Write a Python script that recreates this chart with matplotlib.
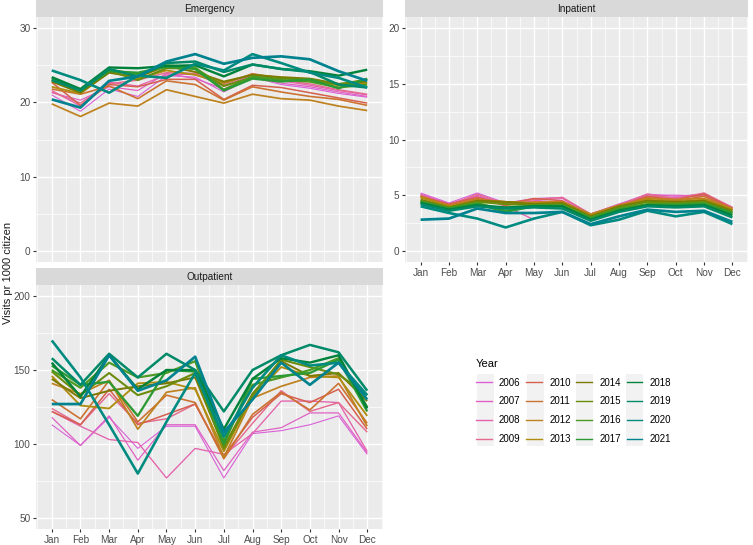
import numpy as np
import matplotlib
matplotlib.use("Agg")
import matplotlib.pyplot as plt
from matplotlib.lines import Line2D
from matplotlib.patches import Rectangle
from matplotlib.ticker import MultipleLocator

plt.rcParams["font.family"] = ["Liberation Sans", "DejaVu Sans"]

W, H = 753, 545

MONTHS = ["Jan", "Feb", "Mar", "Apr", "May", "Jun",
          "Jul", "Aug", "Sep", "Oct", "Nov", "Dec"]
YEARS = list(range(2006, 2022))

# colour per year, pink -> orange -> olive -> green -> teal
YEAR_COLORS = [
    "#D960D8", "#E05FC4", "#E463AE", "#E46A90",
    "#D6604E", "#CC7230", "#BE8220", "#B08D10",
    "#7C7800", "#6A8C0C", "#4C9A22", "#2C9A34",
    "#00823A", "#008A68", "#008B80", "#00838F",
]

nan = np.nan

emergency = {
    2006: [21.0, 18.8, 21.8, 20.8, 23.6, 23.4, 21.4, 23.4, 22.4, 21.9, 21.2, 20.7],
    2007: [21.3, 20.3, 22.1, 21.6, 23.9, 23.2, 21.8, 23.5, 22.6, 22.1, 21.4, 20.8],
    2008: [21.6, 19.5, 22.7, 22.2, 23.7, 23.8, 22.2, 23.7, 22.9, 22.3, 21.6, 21.0],
    2009: [21.4, 19.9, 22.5, 23.0, 24.0, 23.9, 22.4, 23.9, 23.0, 22.5, 21.7, 21.1],
    2010: [22.7, 19.6, 22.4, 22.1, 23.1, 23.1, 20.4, 22.3, 22.0, 21.3, 20.6, 19.9],
    2011: [21.8, 21.1, 22.2, 20.5, 22.9, 22.4, 20.3, 22.1, 21.4, 20.8, 20.4, 19.6],
    2012: [19.8, 18.1, 19.9, 19.5, 21.7, 20.8, 19.9, 21.1, 20.5, 20.3, 19.5, 18.9],
    2013: [22.1, 21.2, 24.1, 23.2, 24.3, 23.7, 22.6, 23.8, 23.3, 23.0, 22.3, 22.6],
    2014: [22.8, 21.3, 24.0, 23.4, 24.9, 24.1, 22.8, 23.7, 23.4, 23.2, 22.5, 22.8],
    2015: [23.0, 21.7, 24.3, 23.0, 24.6, 24.6, 22.2, 23.4, 23.2, 23.1, 22.4, 23.1],
    2016: [23.3, 21.5, 24.4, 23.8, 25.0, 24.7, 21.7, 23.5, 23.0, 22.8, 22.0, 22.4],
    2017: [23.1, 21.6, 24.2, 24.0, 24.8, 24.5, 21.6, 23.2, 22.8, 23.1, 21.9, 23.2],
    2018: [23.4, 21.8, 24.7, 24.6, 24.9, 25.0, 23.5, 25.1, 24.5, 24.2, 23.6, 24.4],
    2019: [23.0, 21.6, 24.5, 23.5, 25.3, 25.5, 24.1, 25.1, 24.5, 24.1, 22.4, 22.0],
    2020: [24.3, 23.0, 21.3, 23.6, 23.3, 25.2, 24.3, 26.5, 25.3, 24.0, 23.3, 22.0],
    2021: [20.4, 19.3, 22.9, 23.5, 25.5, 26.5, 25.2, 26.0, 26.2, 25.8, 24.2, 22.9],
}

inpatient = {
    2006: [5.2, 4.3, 5.2, 4.3, 4.7, 4.8, 3.3, 4.2, 5.1, 4.9, 5.1, 3.9],
    2007: [5.1, 4.2, 5.0, 4.1, 4.5, 4.7, 3.2, 4.1, 5.0, 5.0, 4.9, 3.8],
    2008: [5.0, 4.2, 4.9, 4.0, 2.8, nan, 3.3, 4.2, 4.9, 4.8, 5.0, 3.9],
    2009: [5.0, 4.1, 5.1, 4.2, 4.6, 4.8, 3.3, 4.1, 5.1, 4.7, 5.2, 3.9],
    2010: [4.9, 4.2, 4.8, 4.2, 4.7, 4.5, 3.2, 4.0, 4.9, 4.6, 5.1, 3.8],
    2011: [4.8, 4.1, 4.7, 4.1, 4.4, 4.4, 3.2, 4.0, 4.8, 4.5, 4.9, 3.7],
    2012: [4.9, 4.0, 4.6, 4.4, 4.3, 4.4, 3.3, 4.1, 4.7, 4.6, 4.7, 3.8],
    2013: [4.8, 4.0, 4.5, 4.4, 4.3, 4.3, 3.2, 4.0, 4.6, 4.4, 4.6, 3.7],
    2014: [4.6, 3.9, 4.5, 4.4, 4.2, 4.3, 3.1, 4.0, 4.5, 4.4, 4.5, 3.6],
    2015: [4.5, 3.9, 4.4, 4.2, 4.1, 4.2, 3.0, 3.9, 4.4, 4.3, 4.4, 3.5],
    2016: [4.4, 3.8, 4.3, 3.6, 4.1, 4.1, 3.0, 3.8, 4.2, 4.2, 4.3, 3.4],
    2017: [4.4, 3.8, 4.2, 3.5, 4.0, 4.0, 2.9, 3.7, 4.1, 4.1, 4.2, 3.4],
    2018: [4.3, 3.7, 4.1, 3.9, 4.0, 4.0, 2.8, 3.6, 4.1, 4.0, 4.1, 3.2],
    2019: [4.2, 3.6, 4.0, 3.8, 3.9, 3.8, 2.7, 3.5, 4.0, 3.9, 4.0, 3.0],
    2020: [4.0, 3.4, 2.9, 2.1, 2.9, 3.5, 2.3, 2.8, 3.6, 3.1, 3.5, 2.4],
    2021: [2.8, 2.9, 3.8, 3.4, 3.4, 3.5, 2.4, 3.1, 3.7, 3.5, 3.6, 2.6],
}

outpatient = {
    2006: [113, 99, 118, 97, 112, 112, 77, 107, 109, 113, 119, 93],
    2007: [118, 99, 119, 89, 113, 113, 82, 108, 111, 121, 121, 94],
    2008: [122, 112, 103, 101, 77, 97, 93, 107, 129, 129, 128, 95],
    2009: [124, 113, 134, 114, 117, 127, 91, 114, 136, 122, 128, 108],
    2010: [122, 113, 137, 113, 120, 127, 92, 118, 134, 128, 137, 110],
    2011: [130, 117, 143, 115, 133, 128, 90, 120, 135, 123, 141, 114],
    2012: [141, 134, 143, 110, 135, 138, 91, 131, 139, 145, 146, 112],
    2013: [146, 126, 124, 141, 142, 137, 95, 132, 152, 146, 145, 119],
    2014: [144, 131, 136, 139, 141, 145, 98, 134, 156, 146, 148, 129],
    2015: [149, 133, 148, 133, 139, 148, 97, 133, 157, 152, 147, 133],
    2016: [150, 138, 155, 145, 148, 156, 102, 140, 145, 150, 158, 125],
    2017: [153, 140, 142, 119, 150, 149, 100, 144, 146, 148, 157, 122],
    2018: [155, 132, 160, 137, 150, 150, 110, 144, 158, 155, 160, 124],
    2019: [158, 140, 161, 145, 161, 150, 122, 150, 160, 167, 162, 136],
    2020: [170, 145, 113, 80, 115, 148, 105, 138, 160, 153, 155, 133],
    2021: [127, 127, 160, 136, 143, 159, 108, 130, 155, 140, 155, 130],
}


def px_box(x0, y0, x1, y1):
    # pixel box (top-left origin) -> figure fraction rect
    return [x0 / W, 1 - y1 / H, (x1 - x0) / W, (y1 - y0) / H]


def style_panel(ax, ylim, major, minor, show_x):
    ax.set_facecolor("#EBEBEB")
    for s in ax.spines.values():
        s.set_visible(False)
    ax.set_xlim(0.45, 12.55)
    ax.set_ylim(*ylim)
    ax.xaxis.set_major_locator(MultipleLocator(1))
    ax.xaxis.set_minor_locator(MultipleLocator(0.5))
    ax.yaxis.set_major_locator(MultipleLocator(major))
    ax.yaxis.set_minor_locator(MultipleLocator(minor))
    ax.grid(True, which="major", color="white", linewidth=1.0)
    ax.grid(True, which="minor", color="white", linewidth=0.5)
    ax.set_axisbelow(True)
    ax.tick_params(which="major", length=2.5, width=0.8, color="#333333",
                   labelsize=7.2, labelcolor="#4D4D4D", pad=1.5)
    ax.tick_params(which="minor", length=0)
    ax.set_xticks(range(1, 13))
    if show_x:
        ax.set_xticklabels(MONTHS)
    else:
        ax.tick_params(axis="x", which="major", length=0, labelbottom=False)


def add_strip(fig, box, title):
    sax = fig.add_axes(box)
    sax.set_facecolor("#D9D9D9")
    sax.set_xticks([])
    sax.set_yticks([])
    for s in sax.spines.values():
        s.set_visible(False)
    sax.text(0.5, 0.5, title, ha="center", va="center", fontsize=7.2,
             color="#1A1A1A", transform=sax.transAxes)


fig = plt.figure(figsize=(W / 100, H / 100), dpi=100)

panels = [
    ("Emergency", emergency, px_box(36, 17, 383, 262), px_box(36, 0, 383, 17),
     (-1.5, 31.5), 10, 5, False),
    ("Inpatient", inpatient, px_box(405, 17, 748, 262), px_box(405, 0, 748, 17),
     (-1.0, 21.0), 5, 2.5, True),
    ("Outpatient", outpatient, px_box(36, 285, 383, 529), px_box(36, 268, 383, 285),
     (42.5, 207.5), 50, 25, True),
]

months_x = np.arange(1, 13)
for title, data, box, sbox, ylim, major, minor, show_x in panels:
    ax = fig.add_axes(box)
    style_panel(ax, ylim, major, minor, show_x)
    for i, yr in enumerate(YEARS):
        lw = 0.8 + 1.15 * i / (len(YEARS) - 1)
        ax.plot(months_x, data[yr], color=YEAR_COLORS[i], linewidth=lw,
                solid_capstyle="butt")
    add_strip(fig, sbox, title)

fig.text(8 / W, 1 - 273 / H, "Visits pr 1000 citizen", rotation=90,
         ha="center", va="center", fontsize=8, color="#1A1A1A")

# legend
handles = [Line2D([], [], color=c, linewidth=1.0) for c in YEAR_COLORS]
labels = [str(y) for y in YEARS]
for k in range(4):
    x0 = 477 + k * 49.6
    fig.patches.append(Rectangle((x0 / W, 1 - 446 / H), 17 / W, 72 / H,
                                 transform=fig.transFigure, facecolor="#F2F2F2",
                                 edgecolor="none", zorder=0))
leg = fig.legend(handles, labels, ncol=4, loc="upper left",
                 bbox_to_anchor=(476 / W, 1 - 359 / H), frameon=False,
                 fontsize=7, title="Year", title_fontsize=8,
                 handlelength=1.6, handletextpad=0.75, columnspacing=0.6,
                 labelspacing=0.9, borderpad=0, borderaxespad=0,
                 alignment="left")

fig.savefig("out.png", dpi=100)
